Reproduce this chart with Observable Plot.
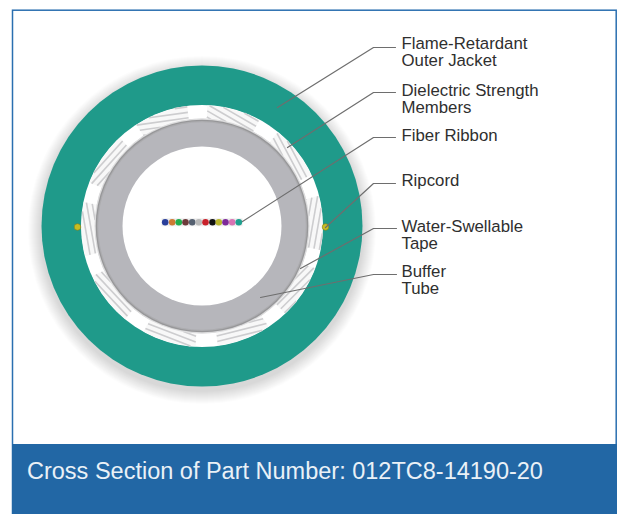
<!DOCTYPE html>
<html>
<head>
<meta charset="utf-8">
<script src="https://cdn.jsdelivr.net/npm/d3@7"></script>
<script src="https://cdn.jsdelivr.net/npm/@observablehq/plot@0.6"></script>
<style>html,body{margin:0;padding:0;background:#fff}svg{display:block}</style>
</head>
<body>
<div id="chart"></div>
<script>
const centerX = 201.5, centerY = 225.5;
const shadowRadii = [174, 173, 172, 171, 170, 169, 168, 167, 166, 165, 164, 163, 162];
const ringRadii = [160.5, 121, 107.5, 106.3, 105, 103.8, 79.5];
const ringFills = ["#1f9a8a", "#ffffff", "#dcdcdd", "#979799", "#acacaf", "#b6b6bb", "#ffffff"];
const memberAngles = [15.5, 52, 88.5, 123.5, 159.5, 196, 232.5, 268.5, 304, 340];
const hatchAngles = [30, 62, -80, -45, -14, 21, 47, 80, -48, -8];
const fiberX = [164.7, 171.7, 178.3, 185, 191.7, 198.3, 205, 212, 218.3, 225, 231.7, 238.3];
const fiberColors = ["#2a3f9a", "#cf7a33", "#22ae4e", "#6c3a3a", "#556070", "#b9b9b9", "#c8202a", "#111111", "#b9b62c", "#7d2a99", "#d873b3", "#1ea08f"];
const ripcordX = [77, 325];
const labelLines = [
  ["Flame-Retardant", 49], ["Outer Jacket", 66],
  ["Dielectric Strength", 96], ["Members", 113],
  ["Fiber Ribbon", 141], ["Ripcord", 186],
  ["Water-Swellable", 232], ["Tape", 249],
  ["Buffer", 277], ["Tube", 294]
];
const leaders = [
  [[277, 107], [373, 47], [395, 47]],
  [[287, 147], [373, 92], [395, 92]],
  [[242, 221], [373, 137], [395, 137]],
  [[325, 227], [373, 183], [395, 183]],
  [[300, 268], [373, 228], [396, 228]],
  [[260, 297], [373, 274], [396, 274]]
];
const banner = {x1: 12, x2: 617, y1: 444, y2: 514, text: "Cross Section of Part Number: 012TC8-14190-20"};

const toRad = d => d * Math.PI / 180;
const halfSpan = 13, rIn = 107, rOut = 120.5;
function inside(x, y, a) {
  const dx = x - centerX, dy = y - centerY, r = Math.hypot(dx, dy);
  if (r < rIn || r > rOut) return false;
  let t = Math.atan2(dx, -dy) * 180 / Math.PI - a;
  t = ((t + 540) % 360) - 180;
  return Math.abs(t) <= halfSpan;
}
const hatches = [];
const polygons = [];
memberAngles.forEach((a, i) => {
  const cx = centerX + 114 * Math.sin(toRad(a)), cy = centerY - 114 * Math.cos(toRad(a));
  const ux = Math.cos(toRad(hatchAngles[i])), uy = Math.sin(toRad(hatchAngles[i]));
  for (let d = -36; d <= 36; d += 5.5) {
    const px = cx - uy * d, py = cy + ux * d;
    let first = null, last = null;
    for (let s = -40; s <= 40; s += 0.25) {
      const x = px + ux * s, y = py + uy * s;
      if (inside(x, y, a)) { if (!first) first = [x, y]; last = [x, y]; }
    }
    if (first) hatches.push({x1: first[0], y1: first[1], x2: last[0], y2: last[1]});
  }
  for (let t = -halfSpan; t <= halfSpan; t += 2) {
    polygons.push({k: i, x: centerX + rOut * Math.sin(toRad(a + t)), y: centerY - rOut * Math.cos(toRad(a + t))});
  }
  for (let t = halfSpan; t >= -halfSpan; t -= 2) {
    polygons.push({k: i, x: centerX + rIn * Math.sin(toRad(a + t)), y: centerY - rIn * Math.cos(toRad(a + t))});
  }
});
const leaderRows = leaders.flatMap((pts, k) => pts.map(([x, y]) => ({k, x, y})));
const fontFamily = "Liberation Sans, Arial, sans-serif";

const chart = Plot.plot({
  width: 619, height: 514,
  marginTop: 0, marginRight: 0, marginBottom: 0, marginLeft: 0,
  style: {background: "#ffffff"},
  x: {domain: [0, 619], range: [0, 619], axis: null},
  y: {domain: [0, 514], range: [0, 514], axis: null},
  r: {type: "identity"},
  marks: [
    Plot.rect([banner], {x1: 12.5, x2: 616.2, y1: 10.2, y2: 514, stroke: "#2a6fb0", strokeWidth: 1.5, fill: "none"}),
    Plot.rect([banner], {x1: "x1", x2: "x2", y1: "y1", y2: "y2", fill: "#2267a5"}),
    Plot.text([banner], {x: 26.5, y: 471, text: "text", fill: "#eaf1f7", fontSize: 23.5, textAnchor: "start", lineAnchor: "middle", fontFamily}),
    Plot.dot(shadowRadii, {x: () => centerX, y: () => centerY + 4, r: d => d, fill: "#000000", fillOpacity: 0.012, stroke: "none"}),
    Plot.dot(ringRadii, {x: () => centerX, y: () => centerY, r: d => d, fill: (d, i) => ringFills[i], stroke: "none"}),
    Plot.line(polygons, {x: "x", y: "y", z: "k", fill: "#f8f8f8", stroke: "none"}),
    Plot.link(hatches, {x1: "x1", y1: "y1", x2: "x2", y2: "y2", stroke: "#cdcdcf", strokeWidth: 1.6}),
    Plot.dot(ringRadii.slice(2), {x: () => centerX, y: () => centerY, r: d => d, fill: (d, i) => ringFills[i + 2], stroke: "none"}),
    Plot.link([0], {x1: 161, x2: 242, y1: 221.7, y2: 221.7, stroke: "#eeeeee", strokeWidth: 8}),
    Plot.dot(fiberX, {x: d => d, y: () => 221.7, r: () => 3.3, fill: (d, i) => fiberColors[i], stroke: "none"}),
    Plot.dot(ripcordX, {x: d => d, y: () => 226.5, r: () => 3.3, fill: "#c6bd22", stroke: "#7d7a1c", strokeWidth: 0.6}),
    Plot.line(leaderRows, {x: "x", y: "y", z: "k", stroke: "#6e6e6e", strokeWidth: 1.2, curve: "linear"}),
    Plot.text(labelLines, {x: 401, y: d => d[1] - 5.5, text: d => d[0], fill: "#2f2f2f", fontSize: 16.8, textAnchor: "start", lineAnchor: "middle", fontFamily})
  ]
});
document.getElementById("chart").append(chart);
</script>
</body>
</html>
